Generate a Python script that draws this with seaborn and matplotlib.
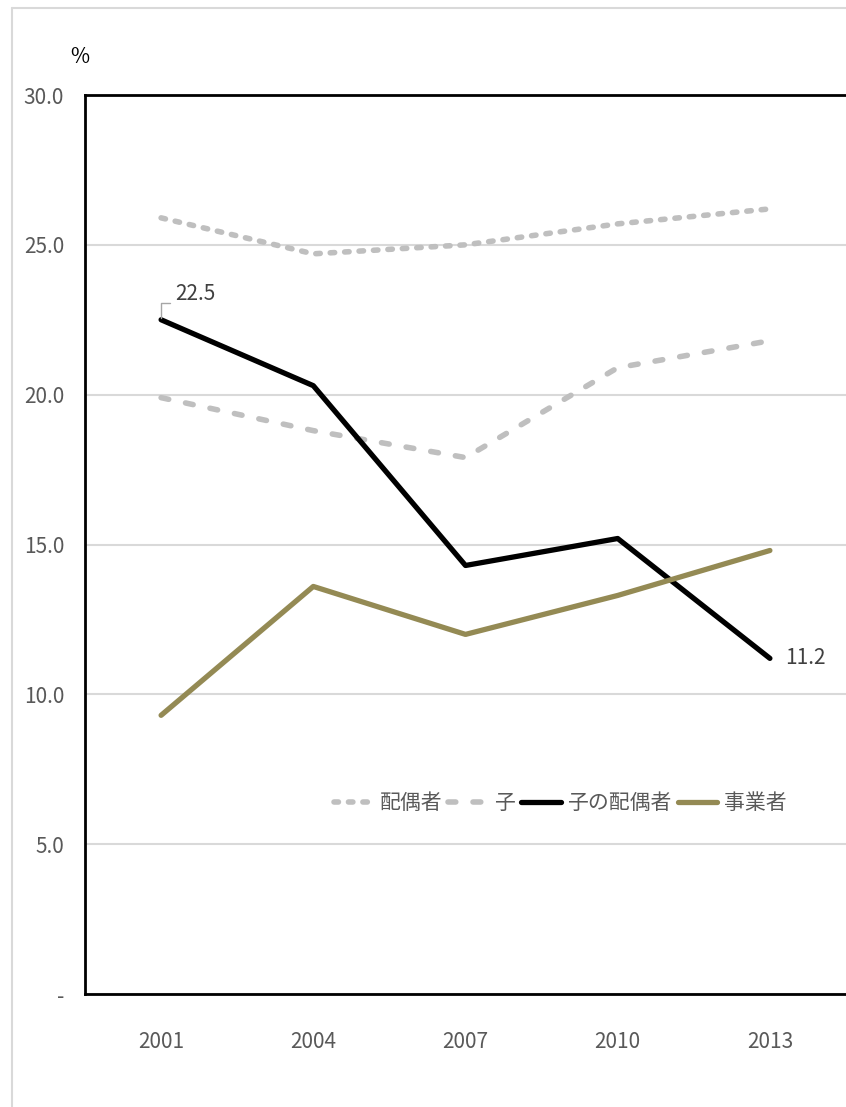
import matplotlib
matplotlib.use("Agg")
import matplotlib.pyplot as plt
import seaborn as sns
import pandas as pd
from matplotlib.lines import Line2D

years = ["2001", "2004", "2007", "2010", "2013"]
spouse = [25.9, 24.7, 25.0, 25.7, 26.2]          # 配偶者
child = [19.9, 18.8, 17.9, 20.9, 21.8]           # 子
child_spouse = [22.5, 20.3, 14.3, 15.2, 11.2]    # 子の配偶者
business = [9.3, 13.6, 12.0, 13.3, 14.8]         # 事業者
series_names = ["配偶者", "子", "子の配偶者", "事業者"]
yticks = [0, 5, 10, 15, 20, 25, 30]
ytick_labels = ["-", "5.0", "10.0", "15.0", "20.0", "25.0", "30.0"]

sns.set_theme(style="white")
plt.rcParams["font.family"] = ["Noto Sans CJK JP", "DejaVu Sans"]

rows = []
for name, vals in zip(series_names, [spouse, child, child_spouse, business]):
    for i, (y, v) in enumerate(zip(years, vals)):
        rows.append({"year": y, "idx": i, "value": v, "series": name})
df = pd.DataFrame(rows)

W, H = 846, 1107
fig = plt.figure(figsize=(W / 100, H / 100), dpi=100)
ax = fig.add_axes([85 / W, 1 - 994 / H, 761 / W, 899 / H])

gray = "#BFBFBF"
black = "#000000"
olive = "#948A54"
textc = "#595959"

palette = {"配偶者": gray, "子": gray, "子の配偶者": black, "事業者": olive}
styles = {
    "配偶者": dict(lw=4.0, dashes=(0.8, 1.8)),
    "子": dict(lw=4.0, dashes=(1.4, 3.1)),
    "子の配偶者": dict(lw=3.8, dashes=None),
    "事業者": dict(lw=3.8, dashes=None),
}

handles = []
for name in series_names:
    sub = df[df["series"] == name]
    st = styles[name]
    sns.lineplot(data=sub, x="idx", y="value", color=palette[name], lw=st["lw"],
                 ax=ax, legend=False, sort=False)
    line = ax.lines[-1]
    if st["dashes"] is not None:
        line.set_dashes(st["dashes"])
        line.set_dash_capstyle("round")
    line.set_solid_capstyle("round")
    line.set_solid_joinstyle("round")
    h = Line2D([0], [0], color=palette[name], lw=st["lw"])
    if st["dashes"] is not None:
        h.set_dashes(st["dashes"])
        h.set_dash_capstyle("round")
    handles.append(h)

ax.set_xlim(-0.5, 4.5)
ax.set_ylim(0, 30)
ax.set_xticks(range(len(years)))
ax.set_xticklabels(years)
ax.set_yticks(yticks)
ax.set_yticklabels(ytick_labels)
ax.set_xlabel("")
ax.set_ylabel("")
ax.tick_params(axis="both", length=0, labelsize=15, colors=textc)
ax.tick_params(axis="x", pad=27)
ax.tick_params(axis="y", pad=15)
ax.yaxis.grid(True, color="#D9D9D9", lw=1.5)
ax.set_axisbelow(True)
for s in ["top", "left", "bottom"]:
    ax.spines[s].set_color("black")
    ax.spines[s].set_linewidth(2.0)
ax.spines["right"].set_visible(False)

# % label
fig.text(80 / W, 1 - 57 / H, "%", fontsize=15, color="#000000", ha="center", va="center")

# data labels
ax.text(0.09, 22.5 + 0.5, "22.5", fontsize=15, color="#404040", ha="left", va="bottom")
ax.plot([0.0, 0.0, 0.06], [22.55, 23.05, 23.05], color="#A6A6A6", lw=1.0)
ax.text(4.1, 11.2, "11.2", fontsize=15, color="#404040", ha="left", va="center")

leg = ax.legend(handles, series_names, loc="center", bbox_to_anchor=(560 / W, 1 - 803 / H),
                bbox_transform=fig.transFigure, ncol=4, frameon=False, fontsize=15,
                handlelength=1.9, handletextpad=0.3, columnspacing=0.3)
for t in leg.get_texts():
    t.set_color(textc)

# outer border lines
fig.add_artist(Line2D([12 / W, 12 / W], [0, 1 - 8 / H], color="#D9D9D9", lw=1.5,
                      transform=fig.transFigure))
fig.add_artist(Line2D([12 / W, 1], [1 - 8 / H, 1 - 8 / H], color="#D9D9D9", lw=1.5,
                      transform=fig.transFigure))

fig.savefig("out.png", dpi=100)
